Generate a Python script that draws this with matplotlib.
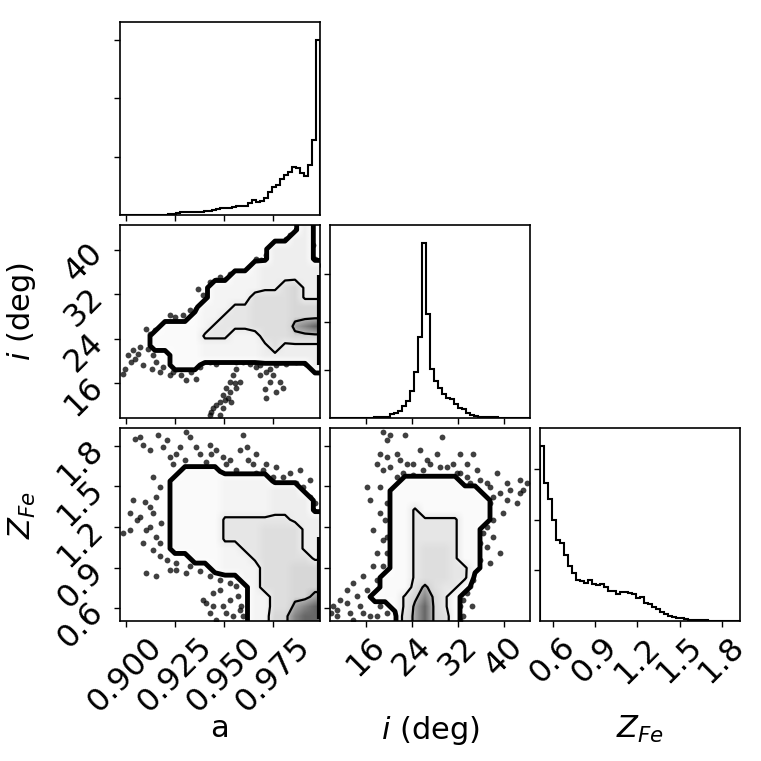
import numpy as np
import matplotlib
matplotlib.use("Agg")
import matplotlib.pyplot as plt
from matplotlib.colors import LinearSegmentedColormap

# axis ranges
a_lim = (0.8971, 0.9986)
i_lim = (9.75, 44.45)
z_lim = (0.507, 1.930)

a_ticks = [0.900, 0.925, 0.950, 0.975]
a_ticklabels = ["0.900", "0.925", "0.950", "0.975"]
i_ticks = [16, 24, 32, 40]
i_ticklabels = ["16", "24", "32", "40"]
z_ticks = [0.6, 0.9, 1.2, 1.5, 1.8]
z_ticklabels = ["0.6", "0.9", "1.2", "1.5", "1.8"]
hist_yticks = [10, 20, 30]

labels = ["a", "$i$ (deg)", "$Z_{Fe}$"]

# 1d marginals, 50 bins each (arbitrary units)
hist_a = [0, 0, 0, 0, 0, 0, 0, 0, 0, 0, 0, 0,
          0.17, 0.17, 0.29, 0.46, 0.46, 0.46, 0.46, 0.46, 0.57, 0.75, 0.75, 0.86,
          1.03, 1.26, 1.26, 1.26, 1.32, 1.49, 1.55, 1.55, 2.0, 2.58, 2.18, 2.47,
          2.87, 3.9, 4.76, 5.2, 6.14, 6.88, 7.4, 8.15, 7.97, 7.23, 6.6, 8.49, 12.8, 30.0]
hist_i = [0, 0, 0, 0, 0, 0, 0, 0, 0, 0, 0,
          0.14, 0.14, 0.14, 0.28, 0.84, 1.05, 1.54, 2.45, 3.5, 5.6, 9.66, 16.9, 36.6,
          21.6, 10.2, 7.7, 6.16, 4.97, 4.2, 3.99, 2.94, 2.1, 1.82, 1.12, 0.63, 0.42,
          0.21, 0.14, 0.14, 0.14, 0.14, 0, 0, 0, 0, 0, 0, 0, 0]
hist_z = [34.6, 27.3, 24.1, 20.0, 15.9, 15.3, 13.0, 10.8, 9.37, 8.06, 7.86, 7.53,
          8.06, 7.27, 7.07, 7.27, 6.62, 5.9, 5.9, 5.24, 5.7, 5.7, 5.57, 5.31, 4.59,
          4.78, 3.6, 3.34, 2.82, 2.29, 1.83, 1.31, 1.05, 0.85, 0.59, 0.52, 0.39, 0.26,
          0.13, 0.13, 0.13, 0.13, 0, 0, 0, 0, 0, 0, 0, 0]

# 2d density levels, 20x20 cells, top row first
# 0 = outside, 1-3 outer region, 4-6 middle, 7-9 core
dens_ai = [
    "00000000000000000030",
    "00000000000000000330",
    "00000000000000033330",
    "00000000000000033330",
    "00000000000002333333",
    "00000000000222333333",
    "00000000022222335633",
    "00000000022225555633",
    "00000000222445555666",
    "00000001224445555666",
    "00001111244445555789",
    "00011111444222555666",
    "00011111222222353333",
    "00000111222222333333",
    "00000111000000000003",
    "00000000000000000000",
    "00000000000000000000",
    "00000000000000000000",
    "00000000000000000000",
    "00000000000000000000",
]
dens_az = [
    "00000000000000000000",
    "00000000000000000000",
    "00000000000000000000",
    "00000000000000000000",
    "00000011110000000000",
    "00000111112222200000",
    "00000111112222233300",
    "00000111112222233330",
    "00000111112222233330",
    "00000111114444444333",
    "00000111114444555533",
    "00000111114444555533",
    "00000111112244555533",
    "00000001112224555553",
    "00000000012222555666",
    "00000000000022555666",
    "00000000000002555666",
    "00000000000002255667",
    "00000000000002255789",
    "00000000000002266899",
]
dens_iz = [
    "00000000000000000000",
    "00000000000000000000",
    "00000000000000000000",
    "00000000000000000000",
    "00000000000000000000",
    "00000001111110000000",
    "00000011111111100000",
    "00000011111111110000",
    "00000011411111110000",
    "00000011444441110000",
    "00000011444441100000",
    "00000011444441100000",
    "00000011455541100000",
    "00000011455541100000",
    "00000011455544100000",
    "00000111455544000000",
    "00000111575441000000",
    "00001114686410000000",
    "00000014796410000000",
    "00000005796510000000",
]

# samples outside the outer contour
ai_pts_a = [0.8987, 0.8995, 0.9029, 0.9038, 0.9063, 0.9088, 0.9105, 0.9122, 0.9173, 0.9190,
            0.9139, 0.9173, 0.9224, 0.9257, 0.9308, 0.9359, 0.9266, 0.9224, 0.9291, 0.9359,
            0.9367, 0.9409, 0.9426, 0.9477, 0.9511, 0.9562, 0.9629, 0.9663, 0.9714, 0.9747,
            0.9764, 0.9815, 0.9866, 0.9900, 0.9925, 0.9950, 0.9959,
            0.9426, 0.9494, 0.9562, 0.9629, 0.9680, 0.9731, 0.9781, 0.9832, 0.9883, 0.9933,
            0.9967, 0.9680, 0.9731, 0.9764, 0.9714, 0.9798,
            0.9426, 0.9443, 0.9477, 0.9494, 0.9511, 0.9528, 0.9545, 0.9562, 0.9477, 0.9519,
            0.9562, 0.9579,
            0.9012, 0.9046, 0.9071, 0.9114, 0.9156, 0.9131, 0.9190, 0.9240, 0.9283, 0.9333,
            0.9376, 0.9147, 0.9215, 0.9249, 0.9325, 0.9393, 0.9426, 0.9460, 0.9528, 0.9596,
            0.9646, 0.9688, 0.9731, 0.9781, 0.9832, 0.9917, 0.9933, 0.9942, 0.9976,
            0.9460, 0.9528, 0.9596, 0.9663, 0.9714, 0.9764, 0.9815, 0.9866, 0.9917, 0.9950,
            0.9747, 0.9705, 0.9781,
            0.9435, 0.9460, 0.9502, 0.9528, 0.9553, 0.9494, 0.9536]
ai_pts_i = [17.6, 18.6, 19.8, 21.9, 21.3, 19.2, 25.8, 24.9, 25.8, 24.6,
            21.0, 18.0, 17.4, 18.6, 16.5, 16.8, 26.4, 28.2, 28.2, 29.4,
            33.0, 30.3, 34.2, 35.1, 34.8, 36.0, 35.7, 38.4, 39.0, 40.8,
            39.6, 42.0, 43.2, 43.8, 43.5, 40.8, 38.4,
            19.8, 20.4, 19.8, 19.5, 19.2, 18.6, 19.8, 20.4, 20.4, 19.8,
            18.9, 17.4, 16.2, 14.5, 13.3, 15.1,
            10.3, 11.5, 12.7, 13.9, 15.1, 16.2, 17.4, 18.6, 10.3, 13.3,
            15.1, 16.2,
            21.0, 20.4, 22.5, 22.2, 19.8, 18.6, 18.9, 18.0, 17.4, 18.0,
            18.9, 25.5, 27.0, 27.9, 29.1, 31.8, 32.4, 34.5, 35.7, 35.1,
            36.6, 38.1, 40.2, 41.4, 42.6, 42.6, 41.4, 39.0, 37.2,
            19.5, 20.1, 19.8, 18.9, 18.0, 19.2, 19.5, 19.8, 19.5, 18.6,
            17.4, 15.05, 16.25,
            10.9, 12.1, 13.0, 14.45, 16.0, 11.5, 12.7]

az_pts_a = [0.9046, 0.9088, 0.9164, 0.9190, 0.9308, 0.9325, 0.9257, 0.9240, 0.9359, 0.9426,
            0.9435, 0.9494, 0.9511, 0.9579, 0.9596, 0.9621, 0.9663, 0.9663, 0.9714, 0.9764,
            0.9798, 0.9883, 0.9866, 0.9933, 0.9950, 0.9967, 0.9393, 0.9342,
            0.9139, 0.9173, 0.9038, 0.9097, 0.9021, 0.9055, 0.8987, 0.9105, 0.9139, 0.9156,
            0.9088, 0.9139, 0.9173, 0.9105, 0.9156, 0.9224, 0.9257, 0.9308, 0.9342,
            0.9409, 0.9443, 0.9477, 0.9494, 0.9528, 0.9545, 0.9579, 0.9562, 0.9426, 0.9460,
            0.9071, 0.9122, 0.9207, 0.9224, 0.9275, 0.9300, 0.9376, 0.9409, 0.9460, 0.9528,
            0.9562, 0.9613, 0.9646, 0.9697, 0.9747, 0.9832, 0.9900, 0.9933, 0.9959,
            0.9021, 0.9071, 0.9122, 0.9156, 0.9181, 0.9122, 0.9173, 0.9207, 0.9257, 0.9325,
            0.9376, 0.9426, 0.9477, 0.9528, 0.9570, 0.9587, 0.9596, 0.9511, 0.9443, 0.9393]
az_pts_z = [1.852, 1.803, 1.876, 1.790, 1.900, 1.864, 1.741, 1.668, 1.790, 1.803,
            1.741, 1.717, 1.668, 1.766, 1.876, 1.692, 1.741, 1.595, 1.668, 1.643,
            1.570, 1.619, 1.521, 1.423, 1.325, 1.276, 1.619, 1.595,
            1.570, 1.497, 1.399, 1.387, 1.301, 1.252, 1.154, 1.178, 1.301, 1.130,
            1.081, 1.032, 0.983, 0.860, 0.836, 0.885, 0.934, 0.860, 0.983,
            0.640, 0.713, 0.738, 0.615, 0.664, 0.542, 0.591, 0.762, 0.566, 0.517,
            1.864, 1.766, 1.839, 1.717, 1.790, 1.692, 1.741, 1.680, 1.766, 1.692,
            1.619, 1.790, 1.668, 1.619, 1.570, 1.595, 1.497, 1.546, 1.374,
            1.178, 1.276, 1.350, 1.423, 1.227, 1.203, 1.081, 0.958, 0.885, 0.909,
            0.872, 0.836, 0.811, 0.787, 0.689, 0.615, 0.542, 0.566, 0.615, 0.664]

iz_pts_i = [19.01, 20.16, 22.77, 17.85, 18.43, 19.58, 21.32, 23.06, 25.37, 26.53,
            28.26, 29.13, 30.0, 31.73, 32.31, 34.63, 33.47, 35.2, 36.94, 38.68,
            40.41, 42.72, 43.88, 30.0, 27.7, 21.32, 24.2,
            16.11, 16.69, 18.43, 17.27, 19.01, 17.85, 17.27, 15.53, 13.80, 12.64,
            11.49, 10.33, 10.91, 13.22, 14.96, 16.69, 18.43, 19.58, 17.85, 9.9,
            35.78, 38.10, 39.83, 42.14, 43.3, 36.94, 38.10, 35.78, 39.25, 37.52,
            34.97, 34.63, 33.47, 32.31, 32.89, 34.34,
            19.58, 19.01, 20.16, 21.9, 22.48, 24.2, 25.95, 27.11, 28.84, 31.16,
            32.31, 33.47, 34.05, 35.78, 35.2, 37.52, 39.25, 40.99,
            18.43, 19.58, 19.3, 19.58, 19.58, 19.01, 17.85, 16.11, 14.38, 12.64,
            10.91, 13.80, 15.53, 18.43, 19.58,
            36.36, 37.52, 40.41, 42.72, 38.10, 36.36, 36.94, 35.78, 34.63, 34.05,
            32.89, 31.73, 32.31]
iz_pts_z = [1.900, 1.876, 1.876, 1.668, 1.741, 1.717, 1.741, 1.668, 1.766, 1.692,
            1.741, 1.864, 1.643, 1.595, 1.741, 1.741, 1.570, 1.619, 1.521, 1.595,
            1.521, 1.546, 1.521, 1.497, 1.546, 1.570, 1.582,
            1.497, 1.399, 1.301, 1.178, 1.105, 1.007, 0.909, 0.836, 0.787, 0.738,
            0.664, 0.615, 0.542, 0.566, 0.615, 0.542, 0.615, 0.664, 0.542, 0.566,
            1.374, 1.423, 1.301, 1.374, 1.472, 1.203, 1.130, 1.081, 1.007, 0.934,
            0.909, 0.811, 0.713, 0.615, 0.542, 0.615,
            1.839, 1.619, 1.643, 1.692, 1.595, 1.668, 1.619, 1.668, 1.643, 1.668,
            1.595, 1.668, 1.521, 1.546, 1.472, 1.497, 1.448, 1.472,
            1.497, 1.374, 1.252, 1.130, 1.007, 0.909, 0.811, 0.738, 0.689, 0.640,
            0.591, 0.517, 0.566, 0.689, 0.566,
            1.301, 1.374, 1.399, 1.448, 1.252, 1.154, 1.056, 0.958, 0.860, 0.762,
            0.664, 0.566, 0.517]

# dense pile-up of samples in the last spin bin (a ~ 0.998)
edge_a = 0.9982
edge_ai_i = (19.2, 35.4)
edge_az_z = (0.52, 1.13)

TICK_FS = 23
LABEL_FS = 22

dens_cmap = LinearSegmentedColormap.from_list(
    "dens",
    [(0.0, (0, 0, 0, 0.0)), (1 / 9, (0, 0, 0, 0.02)), (3 / 9, (0, 0, 0, 0.07)),
     (6 / 9, (0, 0, 0, 0.16)), (7 / 9, (0, 0, 0, 0.35)), (1.0, (0, 0, 0, 0.6))])

plt.rcParams["axes.linewidth"] = 1.2

fig = plt.figure(figsize=(7.61, 7.61), dpi=100)
W = 761.0
col_left = [120, 330, 540]
row_top = [22, 225, 428]
aw, ah = 200, 193


def make_ax(r, c):
    return fig.add_axes([col_left[c] / W, 1 - (row_top[r] + ah) / W, aw / W, ah / W])


def draw_hist(ax, vals, lim):
    edges = np.linspace(lim[0], lim[1], len(vals) + 1)
    ax.stairs(vals, edges, color="k", lw=1.5)
    ax.set_xlim(lim)
    ax.set_ylim(0, 1.1 * max(vals))
    ax.set_yticks(hist_yticks)
    ax.set_yticklabels([])


def draw_2d(ax, rows, xlim, ylim, px, py):
    g = np.array([[int(ch) for ch in r] for r in rows], dtype=float)
    ny, nx = g.shape
    gu = g[::-1]  # bottom row first
    xc = xlim[0] + (xlim[1] - xlim[0]) * (np.arange(nx) + 0.5) / nx
    yc = ylim[0] + (ylim[1] - ylim[0]) * (np.arange(ny) + 0.5) / ny
    xp = np.concatenate([[xlim[0]], xc, [xlim[1]]])
    yp = np.concatenate([[ylim[0]], yc, [ylim[1]]])
    gp = np.pad(gu, 1, mode="edge")
    ax.plot(px, py, "o", ms=4.2, color="k", alpha=0.75, mec="none", zorder=1)
    ax.contourf(xp, yp, gp, levels=[0.5, 20], colors="white", zorder=2)
    ax.imshow(g, extent=[xlim[0], xlim[1], ylim[0], ylim[1]], origin="upper",
              cmap=dens_cmap, vmin=0, vmax=9, interpolation="bilinear",
              aspect="auto", zorder=3)
    ax.contour(xp, yp, gp, levels=[0.5], colors="k", linewidths=3.5, zorder=4)
    ax.contour(xp, yp, gp, levels=[3.5, 6.5], colors="k", linewidths=1.6, zorder=4)
    ax.set_xlim(xlim)
    ax.set_ylim(ylim)


lims = [a_lim, i_lim, z_lim]
ticks = [(a_ticks, a_ticklabels), (i_ticks, i_ticklabels), (z_ticks, z_ticklabels)]

axes = {}
for r in range(3):
    for c in range(r + 1):
        axes[(r, c)] = make_ax(r, c)

draw_hist(axes[(0, 0)], hist_a, a_lim)
draw_hist(axes[(1, 1)], hist_i, i_lim)
draw_hist(axes[(2, 2)], hist_z, z_lim)
draw_2d(axes[(1, 0)], dens_ai, a_lim, i_lim, ai_pts_a, ai_pts_i)
draw_2d(axes[(2, 0)], dens_az, a_lim, z_lim, az_pts_a, az_pts_z)
draw_2d(axes[(2, 1)], dens_iz, i_lim, z_lim, iz_pts_i, iz_pts_z)
axes[(1, 0)].vlines(edge_a, *edge_ai_i, color="k", lw=3, zorder=4)
axes[(2, 0)].vlines(edge_a, *edge_az_z, color="k", lw=3, zorder=4)

for (r, c), ax in axes.items():
    ax.tick_params(labelsize=TICK_FS, length=4, width=1.0)
    tk, tl = ticks[c]
    ax.set_xticks(tk)
    if r == 2:
        ax.set_xticklabels(tl, rotation=45)
        ax.set_xlabel(labels[c], fontsize=LABEL_FS)
        ax.xaxis.set_label_coords(0.5, -0.48)
    else:
        ax.set_xticklabels([])
    if r != c:
        tk, tl = ticks[r]
        ax.set_yticks(tk)
        if c == 0:
            ax.set_yticklabels(tl, rotation=45)
            ax.set_ylabel(labels[r], fontsize=LABEL_FS)
            ax.yaxis.set_label_coords(-0.41, 0.55)
        else:
            ax.set_yticklabels([])

fig.savefig("out.png", dpi=100)
